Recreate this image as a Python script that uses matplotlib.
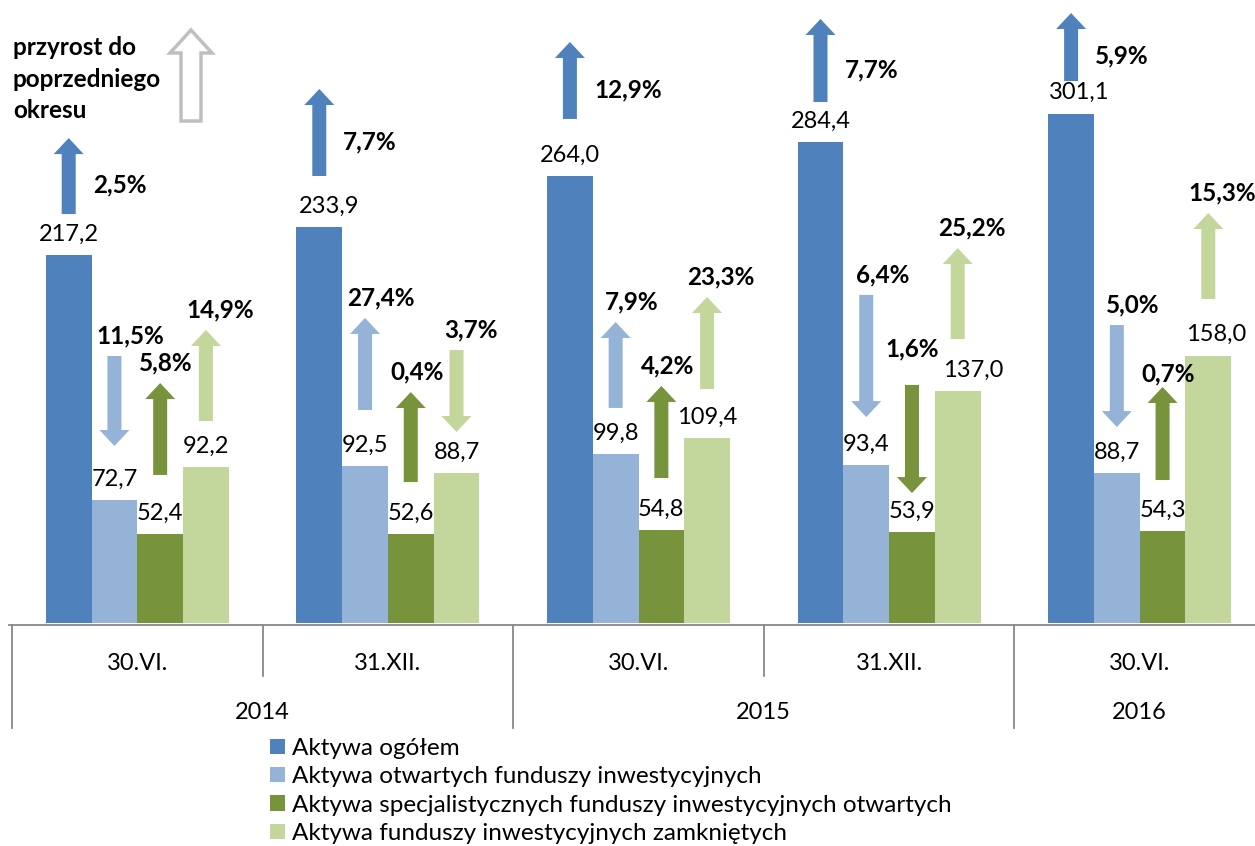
import matplotlib
matplotlib.use('Agg')
import matplotlib.pyplot as plt
import numpy as np

plt.rcParams['font.family'] = ['Lato', 'DejaVu Sans']

# Dane (mld zł)
okresy = ['30.VI.', '31.XII.', '30.VI.', '31.XII.', '30.VI.']
lata = ['2014', '2015', '2016']
lata_zakres = [(0, 1), (2, 3), (4, 4)]

serie = ['Aktywa ogółem',
         'Aktywa otwartych funduszy inwestycyjnych',
         'Aktywa specjalistycznych funduszy inwestycyjnych otwartych',
         'Aktywa funduszy inwestycyjnych zamkniętych']

aktywa_ogolem = [217.2, 233.9, 264.0, 284.4, 301.1]
aktywa_fio = [72.7, 92.5, 99.8, 93.4, 88.7]
aktywa_sfio = [52.4, 52.6, 54.8, 53.9, 54.3]
aktywa_fiz = [92.2, 88.7, 109.4, 137.0, 158.0]

# przyrost do poprzedniego okresu (%), znak = kierunek strzałki
przyrost_ogolem = [2.5, 7.7, 12.9, 7.7, 5.9]
przyrost_fio = [-11.5, 27.4, 7.9, -6.4, -5.0]
przyrost_sfio = [5.8, 0.4, 4.2, -1.6, 0.7]
przyrost_fiz = [14.9, -3.7, 23.3, 25.2, 15.3]

kolory = ['#4F81BD', '#95B3D7', '#77933C', '#C3D69B']

# rozmieszczenie strzałek (dolny i górny koniec, w jednostkach osi y)
strzalki_y = [
    [(241.7, 286.6), (264.2, 315.6), (297.9, 343.4), (307.9, 357.0), (320.3, 360.5)],
    [(104.6, 157.8), (125.9, 180.3), (127.1, 177.9), (121.7, 193.9), (115.8, 176.1)],
    [(87.5, 141.8), (83.3, 136.5), (85.7, 140.1), (76.8, 140.7), (84.5, 139.5)],
    [(119.4, 173.2), (112.9, 161.3), (138.3, 192.7), (167.8, 221.6), (191.5, 242.3)],
]
etykieta_dx = [24, 16, 6, 14]   # px, przesunięcie etykiety % względem strzałki
# wyjątki dla etykiet % (seria, okres): (dx px, odstęp nad strzałką px)
wyjatki_proc = {(2, 3): (0, 36), (2, 4): (6, 13)}
# ręczne przesunięcia etykiet wartości (seria, okres): px w prawo
przesun_wart = {(3, 3): 16, (3, 4): 8, (0, 4): 8, (0, 1): 10}

W, H = 1255, 846
fig = plt.figure(figsize=(W / 100, H / 100), dpi=100)
ax_l, ax_r, ax_base = 12, 1265, 623
ax = fig.add_axes([ax_l / W, 1 - ax_base / H, (ax_r - ax_l) / W, ax_base / H])
ax.set_xlim(-0.5, 4.5)
ax.set_ylim(0, ax_base / 1.692)
ax.axis('off')

px_x = 5.0 / (ax_r - ax_l)      # jednostki x na piksel
px_y = (ax_base / 1.692) / ax_base  # jednostki y na piksel

FS = 17
FSB = 17.5

x = np.arange(len(okresy))
szer = 0.1825
wartosci = [aktywa_ogolem, aktywa_fio, aktywa_sfio, aktywa_fiz]
przyrosty = [przyrost_ogolem, przyrost_fio, przyrost_sfio, przyrost_fiz]
handles = []
for i, (vals, c) in enumerate(zip(wartosci, kolory)):
    xs = x + (i - 1.5) * szer
    b = ax.bar(xs, vals, width=szer, color=c, label=serie[i])
    handles.append(b)
    for j, (xi, v) in enumerate(zip(xs, vals)):
        dx = przesun_wart.get((i, j), 0) * 0.72
        ax.annotate(f'{v:.1f}'.replace('.', ','), (xi, v), xytext=(dx, 15),
                    textcoords='offset points', ha='center', va='center',
                    fontsize=FS, color='black')


def strzalka(ax, xc, y_dol, y_gora, w_gore, kolor, trzon=7, grot=15, dl=16,
             wypelnij=True, lw=0):
    s, h, hl = trzon * px_x, grot * px_x, dl * px_y
    if w_gore:
        ogon, czubek, d = y_dol, y_gora, 1
    else:
        ogon, czubek, d = y_gora, y_dol, -1
    baza = czubek - d * hl
    xs = [xc - s, xc + s, xc + s, xc + h, xc, xc - h, xc - s]
    ys = [ogon, ogon, baza, baza, czubek, baza, baza]
    if wypelnij:
        ax.fill(xs, ys, color=kolor, lw=0, clip_on=False)
    else:
        ax.fill(xs, ys, facecolor='white', edgecolor=kolor, lw=lw,
                joinstyle='miter', clip_on=False)


for i in range(4):
    for j in range(len(okresy)):
        xc = x[j] + (i - 1.5) * szer
        y0, y1 = strzalki_y[i][j]
        p = przyrosty[i][j]
        strzalka(ax, xc, y0, y1, p > 0, kolory[i])
        tekst = f'{abs(p):.1f}'.replace('.', ',') + '%'
        if i == 0:
            ax.text(xc + etykieta_dx[i] * px_x, (y0 + y1) / 2 - 9 * px_y, tekst,
                    ha='left', va='center', fontsize=FSB, fontweight='bold')
        else:
            dx, odstep = wyjatki_proc.get((i, j), (etykieta_dx[i], 20))
            ax.text(xc + dx * px_x, y1 + odstep * px_y, tekst,
                    ha='center', va='center', fontsize=FSB, fontweight='bold')

# klucz strzałki
fig.text(13 / W, 1 - 36 / H, 'przyrost do\npoprzedniego\nokresu', ha='left',
         va='top', fontsize=FSB, fontweight='bold', linespacing=1.45)
strzalka(ax, -0.5 + (191 - ax_l) * px_x, (ax_base - 121) * px_y, (ax_base - 30) * px_y,
         True, '#BFBFBF', trzon=10, grot=21, dl=23, wypelnij=False, lw=2.5)

# oś kategorii
tr = ax.get_xaxis_transform()
def fy(py):
    return (ax_base - py) / ax_base

szary = '#888888'
ax.plot([-0.51, 4.5], [fy(625), fy(625)], transform=tr, color=szary, lw=1.3, clip_on=False)
for j in range(len(okresy)):
    ax.text(x[j], fy(663), okresy[j], transform=tr, ha='center', va='center', fontsize=FS)
    granica = x[j] - 0.5
    pelna = any(granica == a - 0.5 for a, _ in lata_zakres)
    ax.plot([granica, granica], [fy(625), fy(728 if pelna else 676)], transform=tr,
            color=szary, lw=1.3, clip_on=False)
for rok, (a, b) in zip(lata, lata_zakres):
    ax.text((a + b) / 2, fy(712), rok, transform=tr, ha='center', va='center', fontsize=FS)

fig.legend(handles, serie, loc='upper left', bbox_to_anchor=(270 / W, 1 - 738 / H),
           frameon=False, fontsize=17.5, handlelength=0.6, handleheight=0.6,
           handletextpad=0.3, labelspacing=0.3, borderaxespad=0, borderpad=0)

fig.savefig('out.png', dpi=100)
